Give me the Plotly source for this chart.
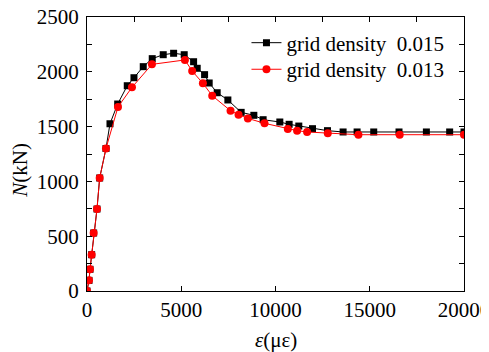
import plotly.graph_objects as go

black_x = [0, 106, 159, 247, 353, 530, 672, 1007, 1219, 1627, 2136, 2491, 2984, 3461, 4044, 4595,
           5157, 5655, 5846, 6238, 6482, 6906, 7473, 8178, 8851, 9344, 10229, 10723, 11236, 11962,
           12757, 13586, 14329, 15211, 16552, 18004, 19239, 20000]
black_y = [0, 97, 198, 331, 529, 748, 1031, 1300, 1526, 1706, 1873, 1946, 2047, 2120, 2156, 2169,
           2156, 2092, 2032, 1974, 1898, 1809, 1743, 1630, 1603, 1563, 1542, 1521, 1505, 1481,
           1463, 1451, 1451, 1451, 1451, 1451, 1451, 1451]

red_x = [0, 106, 159, 247, 353, 530, 672, 1007, 1643, 2385, 3445, 5194, 5581, 6148, 6643, 7615,
         8039, 8533, 9417, 10653, 11146, 11676, 12773, 14400, 16589, 20000]
red_y = [0, 97, 198, 331, 529, 748, 1031, 1300, 1679, 1858, 2068, 2108, 2007, 1895, 1782, 1645,
         1609, 1575, 1530, 1478, 1463, 1451, 1439, 1426, 1426, 1426]

x_ticks = [0, 5000, 10000, 15000, 20000]
y_ticks = [0, 500, 1000, 1500, 2000, 2500]

FONT = "Liberation Serif, Times New Roman, serif"

fig = go.Figure()
fig.add_trace(go.Scatter(x=black_x, y=black_y, mode="lines+markers",
                         name="grid density\u00a0\u00a00.015", legend="legend",
                         line=dict(color="black", width=1),
                         marker=dict(symbol="square", size=7, color="black")))
fig.add_trace(go.Scatter(x=red_x, y=red_y, mode="lines+markers",
                         name="grid density\u00a0\u00a00.013", legend="legend2",
                         line=dict(color="red", width=1),
                         marker=dict(symbol="circle", size=8, color="red")))
fig.add_trace(go.Scatter(x=[0, 20000], y=[0, 0], xaxis="x2", mode="lines",
                         line=dict(width=0), showlegend=False, hoverinfo="skip"))

leg_common = dict(x=0.423, xanchor="left", yanchor="middle",
                  bgcolor="rgba(0,0,0,0)", font=dict(family=FONT, size=21))

fig.update_layout(
    width=481, height=344,
    margin=dict(l=79, r=25, t=9, b=61, autoexpand=False),
    paper_bgcolor="white", plot_bgcolor="white",
    font=dict(family=FONT, size=20, color="black"),
    showlegend=True,
    legend=dict(y=0.905, **leg_common),
    legend2=dict(y=0.808, **leg_common),
    xaxis=dict(range=[0, 20000], tickvals=x_ticks, ticktext=[str(v) for v in x_ticks],
               ticks="inside", ticklen=5, tickcolor="black", showgrid=False, zeroline=False,
               showline=True, linecolor="black", linewidth=1, mirror=True, automargin=False,
               ticklabeloverflow="allow",
               tickfont=dict(family=FONT, size=21)),
    xaxis2=dict(range=[0, 20000], overlaying="x", side="top", dtick=2500, tick0=0,
                ticks="inside", ticklen=5, tickcolor="black", showticklabels=False,
                showgrid=False, zeroline=False, showline=False, automargin=False),
    yaxis=dict(range=[0, 2500], tickvals=y_ticks, ticktext=[str(v) for v in y_ticks],
               ticks="inside", ticklen=5, tickcolor="black", showgrid=False, zeroline=False,
               showline=True, linecolor="black", linewidth=1, mirror="allticks", automargin=False,
               ticklabeloverflow="allow",
               tickfont=dict(family=FONT, size=21), ticklabelstandoff=3,
               minor=dict(dtick=250, ticks="inside", ticklen=5, tickcolor="black", showgrid=False)),
    annotations=[
        dict(text="<i>N</i>(kN)", xref="paper", yref="paper", x=-0.178, y=0.442,
             xanchor="center", yanchor="middle", textangle=-90, showarrow=False,
             font=dict(family=FONT, size=21)),
        dict(text="<i>ε</i>(με)", xref="paper", yref="paper", x=0.5, y=-0.179,
             xanchor="center", yanchor="middle", showarrow=False,
             font=dict(family=FONT, size=21)),
    ],
)

fig.write_html("out.html")
